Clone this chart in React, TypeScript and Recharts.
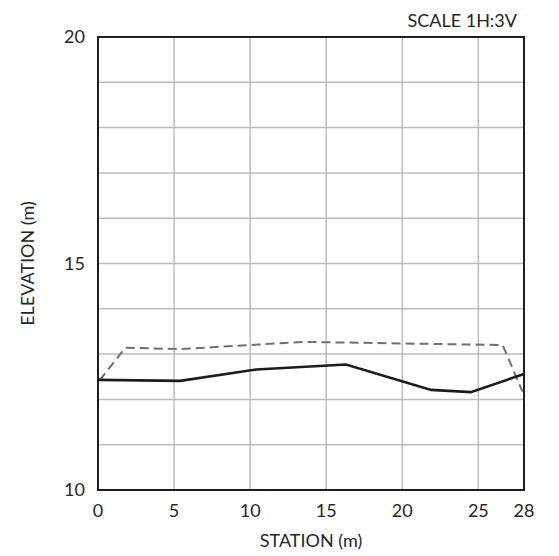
import { CartesianGrid, Label, Line, LineChart, ReferenceArea, XAxis, YAxis } from "recharts";

// Station / elevation pairs for the two profiles (metres).
const existingStation = [0, 5.4, 10.4, 16.3, 21.9, 24.5, 28];
const existingElevation = [12.43, 12.41, 12.66, 12.77, 12.21, 12.16, 12.56];

const proposedStation = [0.1, 1.8, 5.4, 13.5, 26.6, 27.9];
const proposedElevation = [12.42, 13.14, 13.11, 13.27, 13.2, 12.17];

const stationTicks = [0, 5, 10, 15, 20, 25, 28];
const elevationTicks = [10, 11, 12, 13, 14, 15, 16, 17, 18, 19, 20];
const labeledElevations = [10, 15, 20];

const existing = existingStation.map((s, i) => ({ station: s, elevation: existingElevation[i] }));
const proposed = proposedStation.map((s, i) => ({ station: s, elevation: proposedElevation[i] }));

const FONT = 'Lato, "Open Sans", sans-serif';
const TEXT = "#262626";
const GRID = "#bcbcbc";
const BORDER = "#1f1f1f";

const tickStyle = { fontSize: 18, fill: TEXT, fontFamily: FONT };
const elevLabel = (v: number) => (labeledElevations.includes(v) ? String(v) : "");

export default function App() {
  return (
    <div style={{ position: "absolute", left: 0, top: 0, width: 559, height: 556, background: "#fff" }}>
      <LineChart width={559} height={556} margin={{ top: 37, right: 0, bottom: 0, left: 0 }}>
        <CartesianGrid
          yAxisId="left"
          stroke={GRID}
          strokeWidth={1.5}
          horizontalValues={elevationTicks}
          verticalValues={stationTicks}
        />
        <XAxis
          dataKey="station"
          type="number"
          domain={[0, 28]}
          ticks={stationTicks}
          allowDuplicatedCategory={false}
          height={66}
          tickLine={false}
          axisLine={false}
          tickSize={0}
          tickMargin={14}
          tick={tickStyle}
          interval={0}
        >
          <Label value="STATION (m)" position="insideBottom" offset={9} style={{ ...tickStyle, textAnchor: "middle" }} />
        </XAxis>
        <YAxis
          yAxisId="left"
          type="number"
          domain={[10, 20]}
          ticks={elevationTicks}
          tickFormatter={elevLabel}
          width={98}
          tickLine={false}
          axisLine={false}
          tickSize={0}
          tickMargin={13}
          tick={tickStyle}
          interval={0}
        >
          <Label
            value="ELEVATION (m)"
            angle={-90}
            position="insideLeft"
            offset={28}
            style={{ ...tickStyle, textAnchor: "middle" }}
          />
        </YAxis>
        <YAxis
          yAxisId="right"
          orientation="right"
          type="number"
          domain={[10, 20]}
          ticks={elevationTicks}
          tickFormatter={elevLabel}
          width={35}
          tickLine={false}
          axisLine={false}
          tickSize={0}
          tickMargin={13}
          tick={tickStyle}
          interval={0}
        />
        <ReferenceArea
          yAxisId="left"
          x1={0}
          x2={28}
          y1={10}
          y2={20}
          fill="none"
          fillOpacity={0}
          stroke={BORDER}
          strokeWidth={2}
          ifOverflow="visible"
        />
        <Line
          yAxisId="left"
          data={proposed}
          dataKey="elevation"
          type="linear"
          stroke="#6f6f6f"
          strokeWidth={2}
          strokeDasharray="9 5"
          dot={false}
          activeDot={false}
          isAnimationActive={false}
        />
        <Line
          yAxisId="left"
          data={existing}
          dataKey="elevation"
          type="linear"
          stroke="#1c1c1c"
          strokeWidth={2.6}
          dot={false}
          activeDot={false}
          isAnimationActive={false}
        />
      </LineChart>
      <div
        style={{
          position: "absolute",
          right: 42,
          top: 8,
          fontFamily: FONT,
          fontSize: 18,
          lineHeight: "24px",
          color: TEXT,
          whiteSpace: "nowrap",
        }}
      >
        SCALE 1H:3V
      </div>
    </div>
  );
}
